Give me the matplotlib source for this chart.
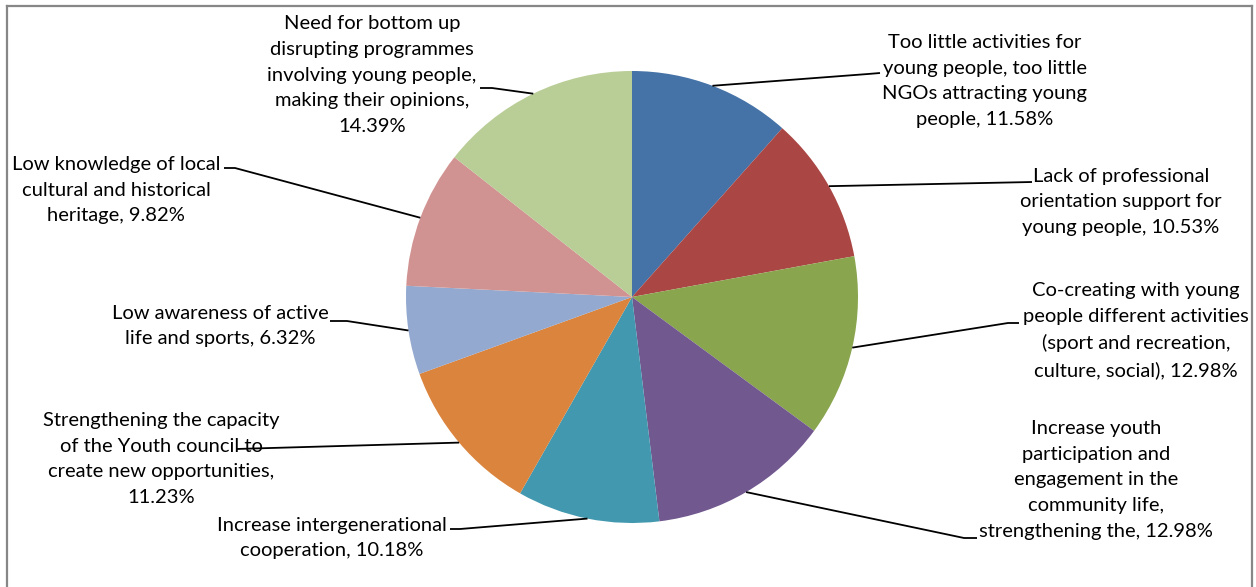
import matplotlib
matplotlib.use("Agg")
import matplotlib.pyplot as plt
import numpy as np

W, H = 1256, 587

labels = [
    "Too little activities for\nyoung people, too little\nNGOs attracting young\npeople, 11.58%",
    "Lack of professional\norientation support for\nyoung people, 10.53%",
    "Co-creating with young\npeople different activities\n(sport and recreation,\nculture, social), 12.98%",
    "Increase youth\nparticipation and\nengagement in the\ncommunity life,\nstrengthening the, 12.98%",
    "Increase intergenerational\ncooperation, 10.18%",
    "Strengthening the capacity\nof the Youth council to\ncreate new opportunities,\n11.23%",
    "Low awareness of active\nlife and sports, 6.32%",
    "Low knowledge of local\ncultural and historical\nheritage, 9.82%",
    "Need for bottom up\ndisrupting programmes\ninvolving young people,\nmaking their opinions,\n14.39%",
]
values = [11.58, 10.53, 12.98, 12.98, 10.18, 11.23, 6.32, 9.82, 14.39]
colors = ["#4572A7", "#AA4643", "#89A54E", "#71588F", "#4198AF",
          "#DB843D", "#93A9CF", "#D19392", "#B9CD96"]

# label block centres (pixel coords, y from top)
label_pos = [(985, 81), (1121, 202), (1136, 331), (1096, 480), (332, 538),
             (161, 459), (220, 326), (116, 190), (372, 75)]
# leader line: knee and end points (pixel coords, y from top)
leader_pts = [
    [(868, 74), (880, 73)],
    [(1032, 182)],
    [(1008, 323), (1019, 323)],
    [(964, 538), (977, 538)],
    [(460, 529), (450, 529)],
    [(236, 449)],
    [(347, 321), (330, 321)],
    [(235, 168), (224, 168)],
    [(492, 88), (480, 88)],
]

cx, cy, R = 632, 297, 226

fig = plt.figure(figsize=(W / 100, H / 100), dpi=100)
ax = fig.add_axes([0, 0, 1, 1])

def fy(y):
    return H - y

wedges, _ = ax.pie(values, colors=colors, startangle=90, counterclock=False,
                   center=(cx, fy(cy)), radius=R,
                   wedgeprops=dict(linewidth=0))
ax.set_xlim(0, W)
ax.set_ylim(0, H)
ax.set_aspect("auto")
ax.axis("off")

for w, lab, (tx, ty), pts in zip(wedges, labels, label_pos, leader_pts):
    mid = np.deg2rad((w.theta1 + w.theta2) / 2)
    x0 = cx + R * np.cos(mid)
    y0 = fy(cy) + R * np.sin(mid)
    xs = [x0] + [p[0] for p in pts]
    ys = [y0] + [fy(p[1]) for p in pts]
    ax.plot(xs, ys, color="black", lw=1.3, solid_capstyle="butt")
    ax.text(tx, fy(ty), lab, ha="center", va="center", multialignment="center",
            fontsize=14.5, family="Lato", color="black", linespacing=1.62)

# chart frame
frame_kw = dict(color="#878787", lw=1.6, solid_capstyle="projecting")
ax.plot([7, 7], [0, fy(6)], **frame_kw)
ax.plot([7, 1252], [fy(6), fy(6)], **frame_kw)
ax.plot([1252, 1252], [fy(6), 0], **frame_kw)

fig.savefig("out.png", dpi=100, facecolor="white")
